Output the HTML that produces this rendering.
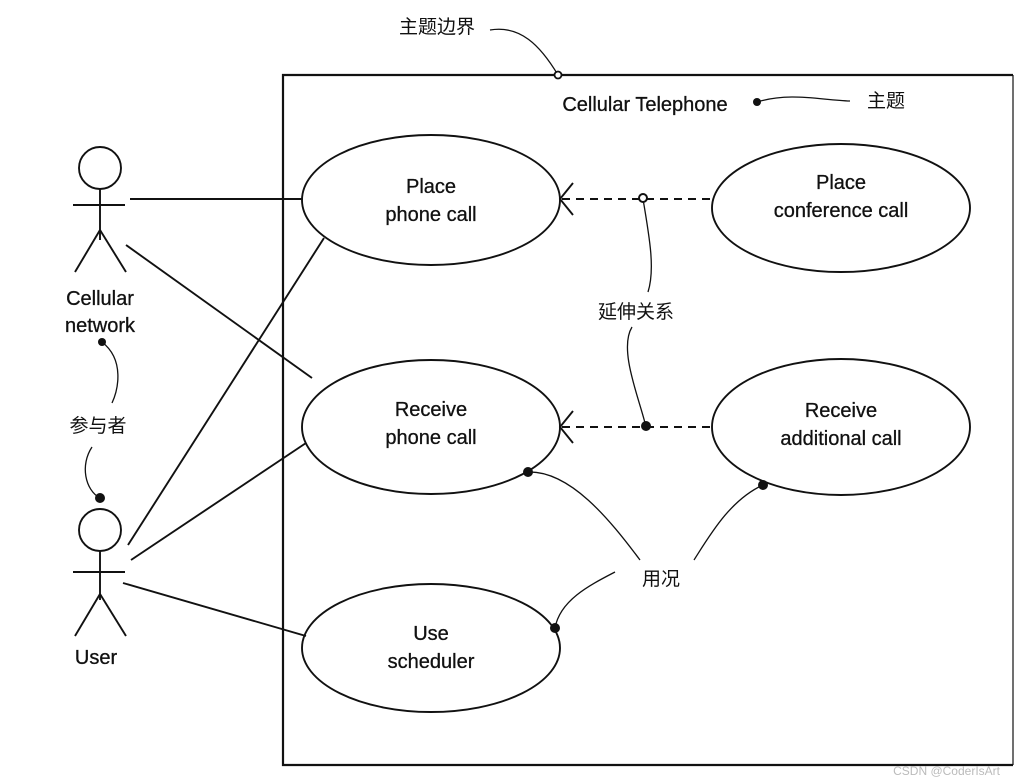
<!DOCTYPE html>
<html><head><meta charset="utf-8"><style>
html,body{margin:0;padding:0;background:#fff;}
svg{display:block}
text{font-family:"Liberation Sans","Noto Sans CJK SC",sans-serif;fill:#111}
</style></head><body>
<svg width="1016" height="784" viewBox="0 0 1016 784" xmlns="http://www.w3.org/2000/svg">
<g fill="none" stroke="#111" stroke-width="1.9">
<polyline points="1013,75 283,75 283,765 1013,765" stroke-width="2.2"/>
<line x1="1013" y1="75" x2="1013" y2="765" stroke-width="1.2"/>
<ellipse cx="431" cy="200" rx="129" ry="65"/>
<ellipse cx="841" cy="208" rx="129" ry="64"/>
<ellipse cx="431" cy="427" rx="129" ry="67"/>
<ellipse cx="841" cy="427" rx="129" ry="68"/>
<ellipse cx="431" cy="648" rx="129" ry="64"/>
<circle cx="100" cy="168" r="21"/>
<line x1="100" y1="189" x2="100" y2="240"/>
<line x1="73" y1="205" x2="125" y2="205"/>
<line x1="100" y1="230" x2="75" y2="272"/>
<line x1="100" y1="230" x2="126" y2="272"/>
<circle cx="100" cy="530" r="21"/>
<line x1="100" y1="551" x2="100" y2="600"/>
<line x1="73" y1="572" x2="125" y2="572"/>
<line x1="100" y1="594" x2="75" y2="636"/>
<line x1="100" y1="594" x2="126" y2="636"/>
<line x1="130" y1="199" x2="303" y2="199"/>
<line x1="126" y1="245" x2="312" y2="378"/>
<line x1="128" y1="545" x2="324" y2="238"/>
<line x1="131" y1="560" x2="306" y2="443"/>
<line x1="123" y1="583" x2="306" y2="636"/>
<line x1="562" y1="199" x2="712" y2="199" stroke-dasharray="8,6"/>
<polyline points="573,183 560,199 573,215"/>
<line x1="562" y1="427" x2="712" y2="427" stroke-dasharray="8,6"/>
<polyline points="573,411 560,427 573,443"/>
<path d="M490,30 C520,25 540,45 558,75" stroke-width="1.3"/>
<path d="M757,102 C790,92 820,100 850,101" stroke-width="1.3"/>
<path d="M643,199 C650,240 655,270 648,292" stroke-width="1.3"/>
<path d="M632,327 C618,350 640,400 646,427" stroke-width="1.3"/>
<path d="M102,342 C125,360 118,390 112,403" stroke-width="1.3"/>
<path d="M92,447 C80,465 85,490 100,498" stroke-width="1.3"/>
<path d="M527,472 C570,470 610,520 640,560" stroke-width="1.3"/>
<path d="M763,485 C730,500 710,535 694,560" stroke-width="1.3"/>
<path d="M555,628 C560,600 590,585 615,572" stroke-width="1.3"/>
</g>
<g fill="#111">
<circle cx="558" cy="75" r="3.5" fill="#fff" stroke="#111" stroke-width="1.8"/>
<circle cx="757" cy="102" r="4"/>
<circle cx="643" cy="198" r="4" fill="#fff" stroke="#111" stroke-width="2"/>
<circle cx="646" cy="426" r="5"/>
<circle cx="102" cy="342" r="4"/>
<circle cx="100" cy="498" r="5"/>
<circle cx="528" cy="472" r="5"/>
<circle cx="763" cy="485" r="5"/>
<circle cx="555" cy="628" r="5"/>
</g>
<g font-size="20" text-anchor="middle" style="stroke:#111;stroke-width:0.3">
<text x="431" y="193">Place</text>
<text x="431" y="221">phone call</text>
<text x="841" y="189">Place</text>
<text x="841" y="217">conference call</text>
<text x="431" y="416">Receive</text>
<text x="431" y="444">phone call</text>
<text x="841" y="417">Receive</text>
<text x="841" y="445">additional call</text>
<text x="431" y="640">Use</text>
<text x="431" y="668">scheduler</text>
<text x="100" y="305">Cellular</text>
<text x="100" y="332">network</text>
<text x="96" y="664">User</text>
<text x="645" y="111">Cellular Telephone</text>
</g>
<g font-size="19" text-anchor="middle">
<text x="437" y="33">主题边界</text>
<text x="886" y="107">主题</text>
<text x="636" y="318">延伸关系</text>
<text x="98" y="432">参与者</text>
<text x="661" y="585">用况</text>
</g>
<text x="1000" y="775" font-size="12" text-anchor="end" style="fill:#bbb">CSDN @CoderIsArt</text>
</svg>
</body></html>
